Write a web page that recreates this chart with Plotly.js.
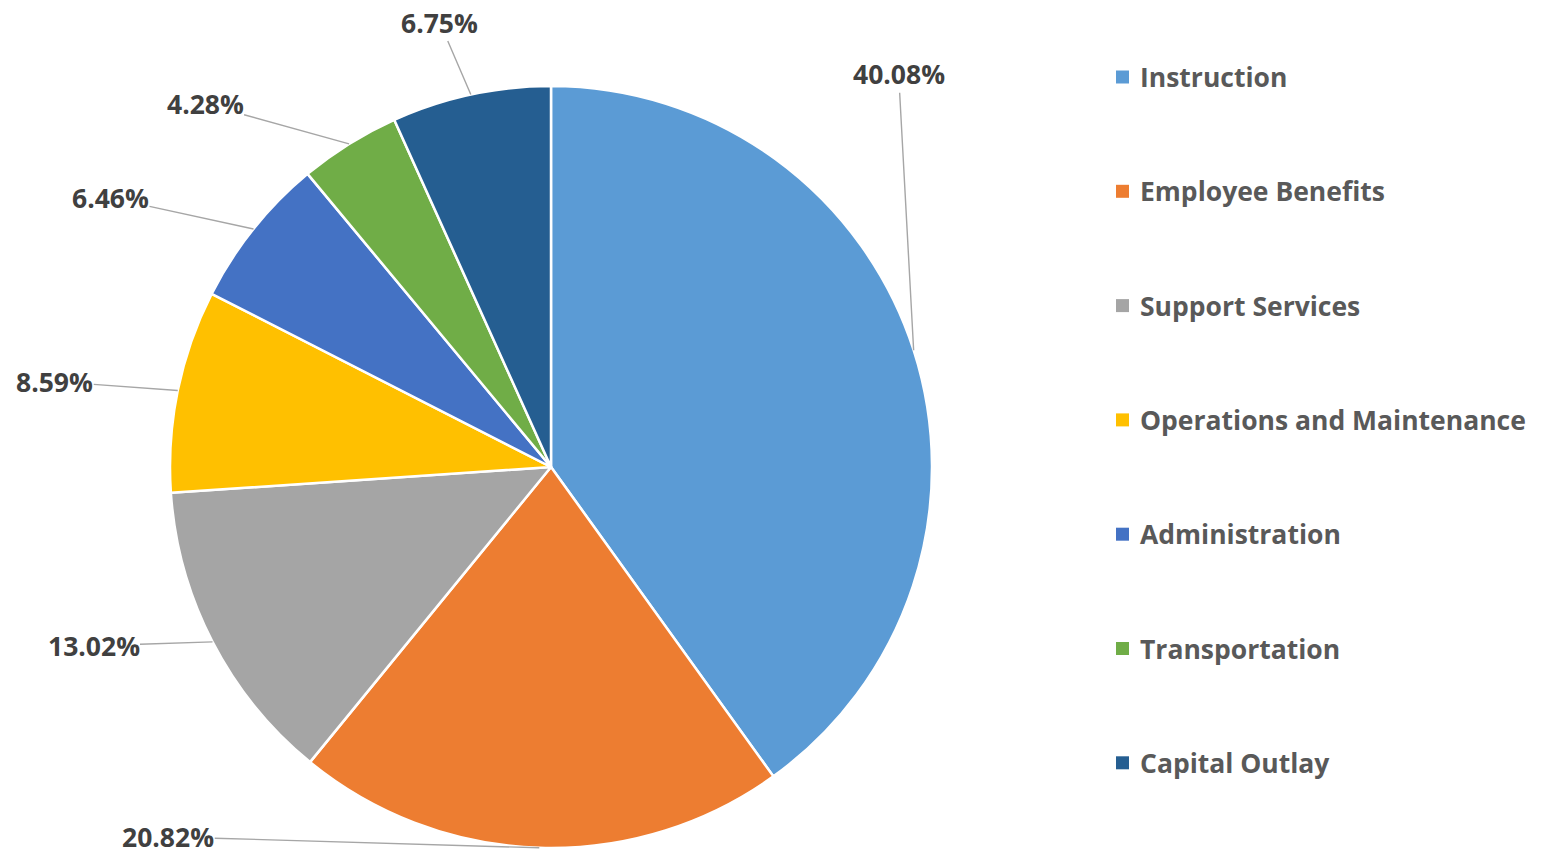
<!DOCTYPE html>
<html>
<head>
<meta charset="utf-8">
<script src="https://cdn.plot.ly/plotly-3.0.1.min.js"></script>
<style>html,body{margin:0;padding:0;background:#fff;}#chart{width:1542px;height:859px;}</style>
</head>
<body>
<div id="chart"></div>
<script>
const categories = ["Instruction","Employee Benefits","Support Services","Operations and Maintenance","Administration","Transportation","Capital Outlay"];
const values = [40.08, 20.82, 13.02, 8.59, 6.46, 4.28, 6.75];
const colors = ["#5B9BD5","#ED7D31","#A5A5A5","#FFC000","#4472C4","#70AD47","#255E91"];
// label text offsets (pixels) from slice edge point
const labelOffsetX = [-15, -371, -119, -123, -143, -144, -31];
const labelOffsetY = [-276, -11, 4, -9, -31, -40, -72];

const W = 1542, H = 859;
const M = {l:0, r:0, t:86, b:11};
const plotH = H - M.t - M.b;           // 762
const R = plotH / 2;                   // pie radius in px
const CX = 551, CY = M.t + R;          // pie centre in px
const domX = [(CX - R) / W, (CX + R) / W];
const px2x = p => (p - M.l) / (W - M.l - M.r);
const py2y = p => (H - M.b - p) / plotH;
const FONT = '"Open Sans", Lato, sans-serif';

const total = values.reduce((a,b)=>a+b,0);
const annotations = [];
const shapes = [];
let cum = 0;
values.forEach((v,i)=>{
  const mid = (cum + v/2) / total;
  cum += v;
  const th = mid * 2 * Math.PI;
  const ex = CX + R * Math.sin(th);
  const ey = CY - R * Math.cos(th);
  annotations.push({
    xref:'paper', yref:'paper', x:px2x(ex), y:py2y(ey),
    text: v.toFixed(2) + '%',
    showarrow:true, arrowhead:0, arrowwidth:1.4, arrowcolor:'#A6A6A6', standoff:0,
    ax: labelOffsetX[i], ay: labelOffsetY[i], borderpad:0,
    font:{family:FONT, size:26.5, color:'#404040', weight:700}
  });
});

// legend (manual, for Excel-like spacing)
const legTop = 77, legStep = 114.3, legX = 1116, sq = 13;
categories.forEach((c,i)=>{
  const yc = legTop + i*legStep;
  shapes.push({type:'rect', xref:'paper', yref:'paper',
    x0:px2x(legX), x1:px2x(legX+sq), y0:py2y(yc+sq/2), y1:py2y(yc-sq/2),
    fillcolor:colors[i], line:{width:0}});
  annotations.push({xref:'paper', yref:'paper', x:px2x(legX+22), y:py2y(yc),
    xanchor:'left', yanchor:'middle', showarrow:false, text:c,
    font:{family:FONT, size:26.5, color:'#595959', weight:700}});
});

const data = [{
  type:'pie', labels:categories, values:values, sort:false,
  direction:'clockwise', rotation:0,
  marker:{colors:colors, line:{color:'#FFFFFF', width:2.5}},
  textinfo:'none', hoverinfo:'label+percent',
  domain:{x:domX, y:[0,1]}
}];

const layout = {
  width:W, height:H, margin:M, showlegend:false,
  paper_bgcolor:'#FFFFFF', plot_bgcolor:'#FFFFFF',
  annotations:annotations, shapes:shapes
};
Plotly.newPlot('chart', data, layout, {displayModeBar:false, staticPlot:true});
</script>
</body>
</html>
